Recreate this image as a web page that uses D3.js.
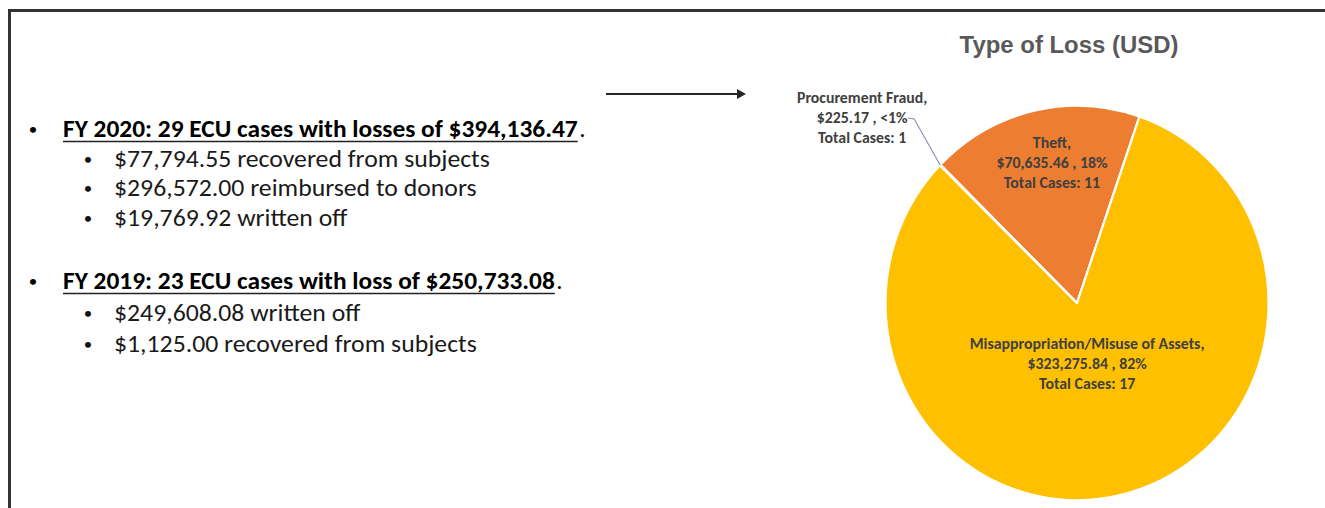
<!DOCTYPE html>
<html>
<head>
<meta charset="utf-8">
<script src="https://cdn.jsdelivr.net/npm/d3@7"></script>
<style>
  html, body { margin: 0; padding: 0; background: #ffffff; }
  svg { display: block; }
</style>
</head>
<body>
<svg id="chart" width="1325" height="508"></svg>
<script>
// ---- Data -------------------------------------------------------------
const lossTypes   = ["Theft", "Misappropriation/Misuse of Assets", "Procurement Fraud"];
const lossAmounts = [70635.46, 323275.84, 225.17];
const caseCounts  = [11, 17, 1];

const fiscalYears = ["FY 2020", "FY 2019"];
const ecuCases    = [29, 23];
const lossWords   = ["losses", "loss"];
const yearLosses  = [394136.47, 250733.08];
const dispositionAmounts = [[77794.55, 296572.00, 19769.92], [249608.08, 1125.00]];
const dispositionTexts   = [["recovered from subjects", "reimbursed to donors", "written off"],
                            ["written off", "recovered from subjects"]];

const chartTitle = "Type of Loss (USD)";

// ---- Setup ------------------------------------------------------------
const W = 1325, H = 508;
const svg = d3.select("#chart");
const money = d3.format("$,.2f");
const bodyFont = "Carlito, Calibri, Lato, sans-serif";

// Scale a text element horizontally so the fallback face keeps Calibri-like proportions
function squeeze(sel, factor) {
  sel.each(function () {
    const w = this.getComputedTextLength();
    d3.select(this).attr("textLength", w * factor).attr("lengthAdjust", "spacingAndGlyphs");
  });
}

// ---- Slide frame ------------------------------------------------------
svg.append("path")
  .attr("d", `M9.5,${H} V10.5 H${W}`)
  .attr("fill", "none")
  .attr("stroke", "#333333")
  .attr("stroke-width", 3);

// ---- Summary bullets (left) -------------------------------------------
const summary = svg.append("g").attr("class", "summary");
const headX = 63, subX = 114, bulletX = 33, subBulletX = 88;
const groupTops = [137, 289];
const groupGaps = [29.5, 31.5];
const textSize = 25, textScale = 1.03, headScale = 1.016;

fiscalYears.forEach((fy, i) => {
  const y0 = groupTops[i];
  const head = `${fy}: ${ecuCases[i]} ECU cases with ${lossWords[i]} of ${money(yearLosses[i])}`;

  summary.append("text")
    .attr("x", bulletX).attr("y", y0 - 2)
    .attr("text-anchor", "middle")
    .attr("font-family", bodyFont).attr("font-size", 17).attr("fill", "#000")
    .text("•");

  const ht = summary.append("text")
    .attr("x", headX).attr("y", y0)
    .attr("font-family", bodyFont).attr("font-size", textSize).attr("font-weight", 700)
    .attr("fill", "#000")
    .text(head);
  squeeze(ht, headScale);
  const hw = +ht.attr("textLength");

  summary.append("line")
    .attr("x1", headX).attr("x2", headX + hw)
    .attr("y1", y0 + 4.5).attr("y2", y0 + 4.5)
    .attr("stroke", "#222").attr("stroke-width", 1.6);

  summary.append("text")
    .attr("x", headX + hw + 1.5).attr("y", y0)
    .attr("font-family", bodyFont).attr("font-size", textSize).attr("fill", "#000")
    .text(".");

  dispositionAmounts[i].forEach((amt, j) => {
    const y = y0 + groupGaps[i] * (j + 1);
    summary.append("text")
      .attr("x", subBulletX).attr("y", y - 2)
      .attr("text-anchor", "middle")
      .attr("font-family", bodyFont).attr("font-size", 17).attr("fill", "#111")
      .text("•");
    const st = summary.append("text")
      .attr("x", subX).attr("y", y)
      .attr("font-family", bodyFont).attr("font-size", textSize)
      .attr("fill", "#1a1a1a")
      .text(`${money(amt)} ${dispositionTexts[i][j]}`);
    squeeze(st, textScale);
  });
});

// ---- Connector arrow --------------------------------------------------
svg.append("line")
  .attr("x1", 606).attr("x2", 739).attr("y1", 94).attr("y2", 94)
  .attr("stroke", "#262626").attr("stroke-width", 2);
svg.append("path")
  .attr("d", "M737,89 L746,94 L737,99 Z")
  .attr("fill", "#262626");

// ---- Pie chart --------------------------------------------------------
const cx = 1077, cy = 303, R = 191.5, yStretch = 1.03;
const total = d3.sum(lossAmounts);
const slices = lossTypes.map((name, i) => ({
  name, value: lossAmounts[i], cases: caseCounts[i], share: lossAmounts[i] / total
}));

const color = d3.scaleOrdinal()
  .domain(lossTypes)
  .range(["#ED7D31", "#FFC000", "#A5A5A5"]);

const start = -45.5 * Math.PI / 180;
const pie = d3.pie().sort(null).value(d => d.value)
  .startAngle(start).endAngle(start + 2 * Math.PI);
const arcs = pie(slices);

const arc = d3.arc().innerRadius(0).outerRadius(R);
const g = svg.append("g").attr("transform", `translate(${cx},${cy})`);
const sliceG = g.append("g").attr("transform", `scale(1,${yStretch})`);

sliceG.selectAll("path.slice")
  .data(arcs)
  .join("path")
  .attr("class", "slice")
  .attr("d", arc)
  .attr("fill", d => color(d.data.name))
  .attr("stroke", "#ffffff")
  .attr("stroke-width", 2.2)
  .attr("stroke-linejoin", "round");

// Title
const title = svg.append("text")
  .attr("x", 1069).attr("y", 53)
  .attr("text-anchor", "middle")
  .attr("font-family", "Liberation Sans, Arial, sans-serif")
  .attr("font-size", 23).attr("font-weight", 700)
  .attr("fill", "#595959")
  .text(chartTitle);
squeeze(title, 1.04);

// Data labels
const pctText = s => s < 0.01 ? "<1%" : Math.round(s * 100) + "%";
const labelLines = d => [`${d.data.name},`, `${money(d.data.value)} , ${pctText(d.data.share)}`, `Total Cases: ${d.data.cases}`];
const labelRadius = { "Theft": 0.73, "Misappropriation/Misuse of Assets": 0.32 };
const labelNudgeX = { "Theft": 7, "Misappropriation/Misuse of Assets": -4 };
const labelGap = 20;

function drawLabel(lines, x, yMid) {
  lines.forEach((ln, k) => {
    const tl = g.append("text")
      .attr("x", x).attr("y", yMid + (k - 1) * labelGap + 5)
      .attr("text-anchor", "middle")
      .attr("font-family", bodyFont).attr("font-size", 15.5).attr("font-weight", 700)
      .attr("fill", "#404040")
      .text(ln);
    squeeze(tl, 1.02);
  });
}

arcs.forEach(d => {
  const lines = labelLines(d);
  if (labelRadius[d.data.name] !== undefined) {
    const la = d3.arc().innerRadius(R * labelRadius[d.data.name]).outerRadius(R * labelRadius[d.data.name]);
    const [x, y] = la.centroid(d);
    drawLabel(lines, x + labelNudgeX[d.data.name], y * yStretch);
  } else {
    // small slice: label outside with a leader line
    const mid = (d.startAngle + d.endAngle) / 2;
    const ox = R * Math.sin(mid), oy = -R * Math.cos(mid) * yStretch;
    const ex = ox - 26, ey = oy - 46;
    g.append("path")
      .attr("d", `M${ox},${oy} L${ex},${ey} L${ex - 6},${ey - 1}`)
      .attr("fill", "none")
      .attr("stroke", "#8090a8")
      .attr("stroke-width", 1.1);
    drawLabel(lines, ex - 52, ey - 1);
  }
});
</script>
</body>
</html>
